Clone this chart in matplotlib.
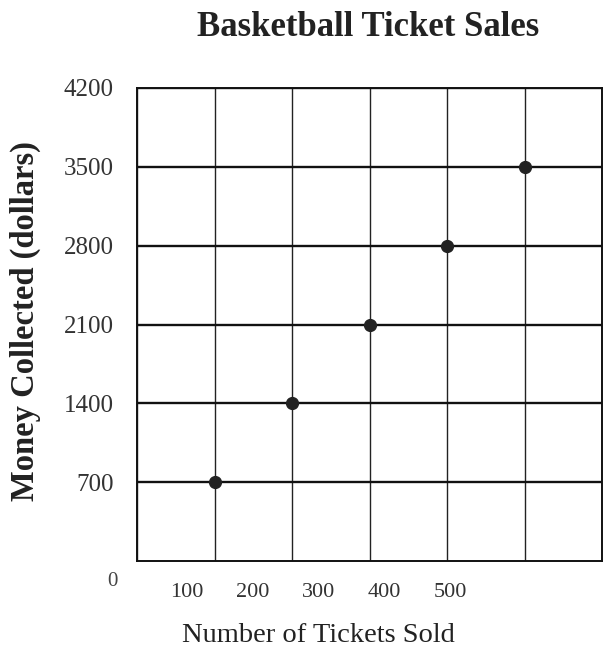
import matplotlib
matplotlib.use("Agg")
import matplotlib.pyplot as plt

# ---- data ----
tickets = [100, 200, 300, 400, 500]
money = [700, 1400, 2100, 2800, 3500]
x_ticks = [100, 200, 300, 400, 500]
y_ticks = [700, 1400, 2100, 2800, 3500, 4200]
title = "Basketball Ticket Sales"
x_label = "Number of Tickets Sold"
y_label = "Money Collected (dollars)"

plt.rcParams['font.family'] = ['Liberation Serif', 'DejaVu Serif']

W, H = 612, 662
fig = plt.figure(figsize=(W / 100, H / 100), dpi=100)

def px_axes(l, t, r, b):
    return [l / W, 1 - b / H, (r - l) / W, (b - t) / H]

ax = fig.add_axes(px_axes(137, 88, 602, 561))
ax.set_xlim(0, 600)
ax.set_ylim(0, 4200)
ax.set_xticks([0] + x_ticks + [600])
ax.set_yticks(y_ticks)
ax.set_xticklabels([])
ax.set_yticklabels([str(v) for v in y_ticks], fontsize=18, color='#333333')
ax.tick_params(axis='both', length=0)
ax.tick_params(axis='y', pad=17)
ax.yaxis.grid(True, color='#111111', lw=1.7)
ax.xaxis.grid(True, color='#222222', lw=1.0)
ax.set_axisbelow(True)
for s in ax.spines.values():
    s.set_color('#111111')
    s.set_linewidth(1.4)

ax.plot(tickets, money, 'o', color='#222222', markersize=8.5, zorder=5)

# x tick labels (offset scale as in the reference)
lab = fig.add_axes(px_axes(121, 88, 516, 561), frameon=False)
lab.set_xlim(0, 600)
lab.set_ylim(0, 1)
lab.set_xticks(x_ticks)
lab.set_xticklabels([str(v) for v in x_ticks], fontsize=16, color='#333333')
lab.set_yticks([])
lab.tick_params(axis='x', length=0, pad=16)
lab.patch.set_alpha(0)

fig.text(112 / W, 1 - 582 / H, "0", fontsize=15, color='#444444',
         ha='center', va='center')

fig.text(368 / W, 1 - 27 / H, title, fontsize=25, fontweight='bold',
         ha='center', va='center', color='#222222')
fig.text(318 / W, 1 - 635 / H, x_label, fontsize=20.5,
         ha='center', va='center', color='#222222')
fig.text(25 / W, 1 - 321 / H, y_label, fontsize=23.5, fontweight='bold',
         rotation=90, ha='center', va='center', color='#222222')

fig.savefig("out.png", dpi=100)
